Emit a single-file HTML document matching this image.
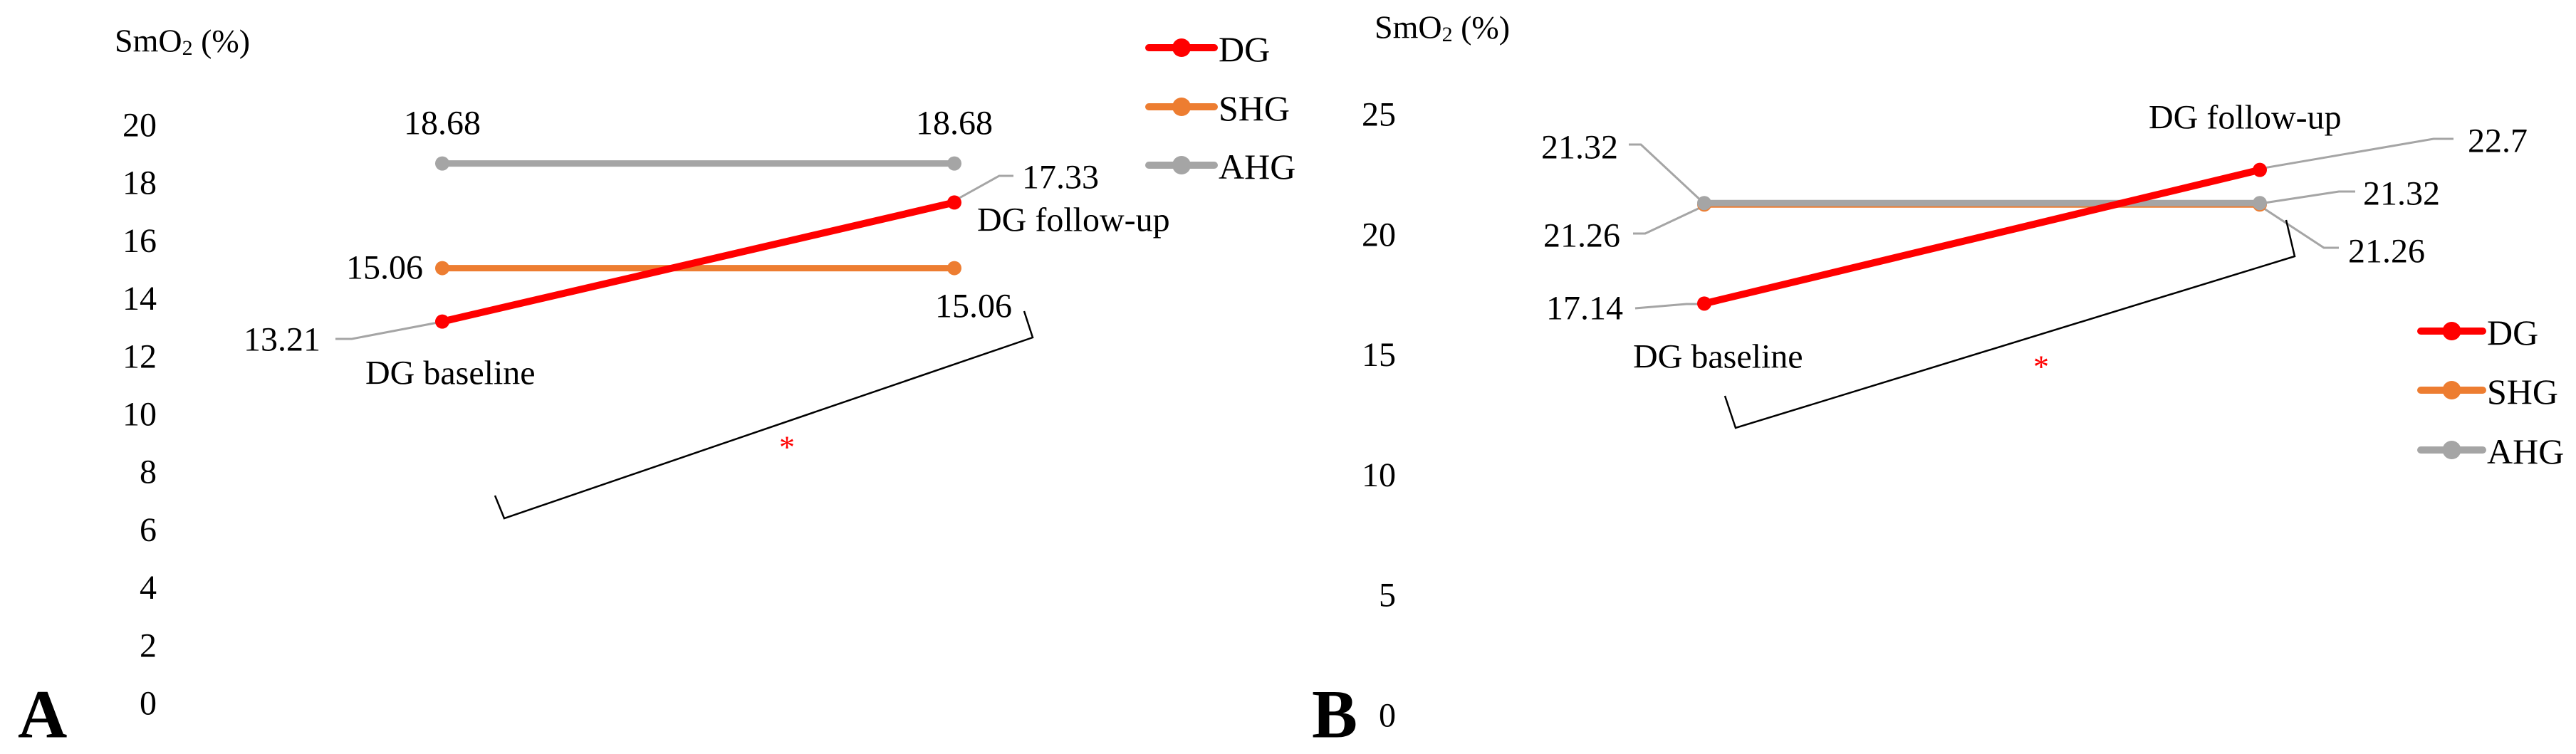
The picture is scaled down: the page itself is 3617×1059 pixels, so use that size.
<!DOCTYPE html>
<html><head><meta charset="utf-8"><style>
html,body{margin:0;padding:0;background:#fff;}
svg, svg text{font-family:"Liberation Serif","Times New Roman","DejaVu Serif",serif;}
</style></head><body>
<svg id="chart" width="3617" height="1054" viewBox="0 0 3617 1054"></svg>
<script>
const seriesNames = ["DG","SHG","AHG"];
const seriesColors = ["#ff0000","#ed7d31","#a5a5a5"];
const timepoints = ["baseline","follow-up"];
const valuesA_DG = [13.21, 17.33];
const valuesA_SHG = [15.06, 15.06];
const valuesA_AHG = [18.68, 18.68];
const ticksA = [0,2,4,6,8,10,12,14,16,18,20];
const valuesB_DG = [17.14, 22.7];
const valuesB_SHG = [21.26, 21.26];
const valuesB_AHG = [21.32, 21.32];
const ticksB = [0,5,10,15,20,25];

const NS="http://www.w3.org/2000/svg";
const svg=document.getElementById('chart');
const FF="'Liberation Serif', 'Times New Roman', 'DejaVu Serif', serif";
function mk(tag,attrs,parent){const e=document.createElementNS(NS,tag);for(const k in attrs)e.setAttribute(k,attrs[k]);(parent||svg).appendChild(e);return e;}
function txt(s,x,y,size,anchor,parent,fill){
  const t=mk('text',{x:x,y:y,'font-size':size,'text-anchor':anchor||'start','dominant-baseline':'central',fill:fill||'#000'},parent);
  t.style.fontFamily=FF;
  t.textContent=s;return t;}

function panel(cfg){
  const g=mk('g',{});
  
  
  const yS=v=>cfg.y0-v*(cfg.y0-cfg.yTop)/cfg.max;
  const xS=i=>cfg.xs[i];
  cfg.ticks.forEach(t=>{
    const e=txt(String(t),cfg.tickX,yS(t),48,'end',g);
    
    
  });
  const ti=mk('text',{x:cfg.titleX,y:cfg.titleY,'font-size':46,'dominant-baseline':'central'},g);
  ti.style.fontFamily=FF;
  ti.innerHTML='SmO<tspan font-size="30" dy="10">2</tspan><tspan dy="-10"> (%)</tspan>';
  
  
  const L=txt(cfg.letter,cfg.letterX,1003,96,'start',g);
  L.setAttribute('font-weight','bold');
  
  
  cfg.leaders.forEach(p=>{
    const l=mk('polyline',{points:p.map(q=>q.join(',')).join(' '),fill:'none',stroke:'#a5a5a5','stroke-width':3},g);
    
    
  });
  const br=mk('polyline',{points:cfg.bracket.map(q=>q.join(',')).join(' '),fill:'none',stroke:'#000','stroke-width':2.5},g);
  
  
  const ast=txt('*',cfg.ast[0],cfg.ast[1],44,'middle',g,'#ff0000');
  
  
  cfg.order.forEach(si=>{
    const vals=cfg.series[si];
    const sg=mk('g',{},g);
    
    
    const ln=mk('line',{x1:xS(0),y1:yS(vals[0]),x2:xS(1),y2:yS(vals[1]),stroke:seriesColors[si],'stroke-width':si===0?10:9,'stroke-linecap':'round'},sg);
    
    
    vals.forEach((v,i)=>{
      const c=mk('circle',{cx:xS(i),cy:yS(v),r:10,fill:seriesColors[si]},sg);
      
      
    });
  });
  cfg.labels.forEach(lb=>{
    const v=cfg.series[lb.s][lb.i];
    const e=txt(String(v),lb.x,lb.y,48,lb.a,g);
    
    
  });
  cfg.texts.forEach(tt=>{
    const e=txt(tt[0],tt[1],tt[2],48,'start',g);
    
    
  });
  const lg=mk('g',{},g);
  
  
  seriesNames.forEach((n,i)=>{
    const y=cfg.legY[i];
    const eg=mk('g',{},lg);
    
    
    mk('line',{x1:cfg.legX1,y1:y,x2:cfg.legX2,y2:y,stroke:seriesColors[i],'stroke-width':10,'stroke-linecap':'round'},eg);
    mk('circle',{cx:(cfg.legX1+cfg.legX2)/2,cy:y,r:13,fill:seriesColors[i]},eg);
    txt(n,cfg.legX2+6,y+2,50,'start',eg);
  });
}

panel({name:'panel-a-chart',letter:'A',letterX:25,y0:988,yTop:176,max:20,ticks:ticksA,tickX:220,
  titleX:161,titleY:57,xs:[621,1340],
  series:[valuesA_DG,valuesA_SHG,valuesA_AHG],order:[1,2,0],
  labels:[{s:2,i:0,x:621,y:173,a:'middle'},{s:2,i:1,x:1340,y:173,a:'middle'},
          {s:1,i:0,x:594,y:376,a:'end'},{s:1,i:1,x:1421,y:430,a:'end'},
          {s:0,i:0,x:450,y:477,a:'end'},{s:0,i:1,x:1435,y:249,a:'start'}],
  texts:[['DG follow-up',1372,309,'dg-follow-up-label'],['DG baseline',513,524,'dg-baseline-label']],
  leaders:[[[471,476],[494,476],[620,452]],[[1340,282],[1403,247],[1423,247]]],
  bracket:[[695,696],[708,728],[1450,474],[1438,437]],ast:[1105,628],
  legX1:1613,legX2:1705,legY:[67,150,232]});

panel({name:'panel-b-chart',letter:'B',letterX:1842,y0:1005,yTop:161,max:25,ticks:ticksB,tickX:1960,
  titleX:1930,titleY:38,xs:[2393,3173],
  series:[valuesB_DG,valuesB_SHG,valuesB_AHG],order:[1,2,0],
  labels:[{s:2,i:0,x:2272,y:207,a:'end'},{s:1,i:0,x:2275,y:331,a:'end'},
          {s:0,i:0,x:2279,y:433,a:'end'},{s:0,i:1,x:3465,y:198,a:'start'},
          {s:2,i:1,x:3318,y:272,a:'start'},{s:1,i:1,x:3297,y:353,a:'start'}],
  texts:[['DG follow-up',3017,165,'dg-follow-up-label'],['DG baseline',2293,501,'dg-baseline-label']],
  leaders:[[[2287,203],[2304,203],[2393,286]],[[2293,328],[2310,328],[2393,289]],[[2296,433],[2368,427],[2393,427]],
           [[3173,237],[3417,195],[3445,195]],[[3173,286],[3284,269],[3307,269]],[[3173,289],[3263,348],[3284,348]]],
  bracket:[[2422,556],[2437,601],[3222,360],[3210,309]],ast:[2866,515],
  legX1:3399,legX2:3486,legY:[465,548,632]});
</script>
</body></html>
